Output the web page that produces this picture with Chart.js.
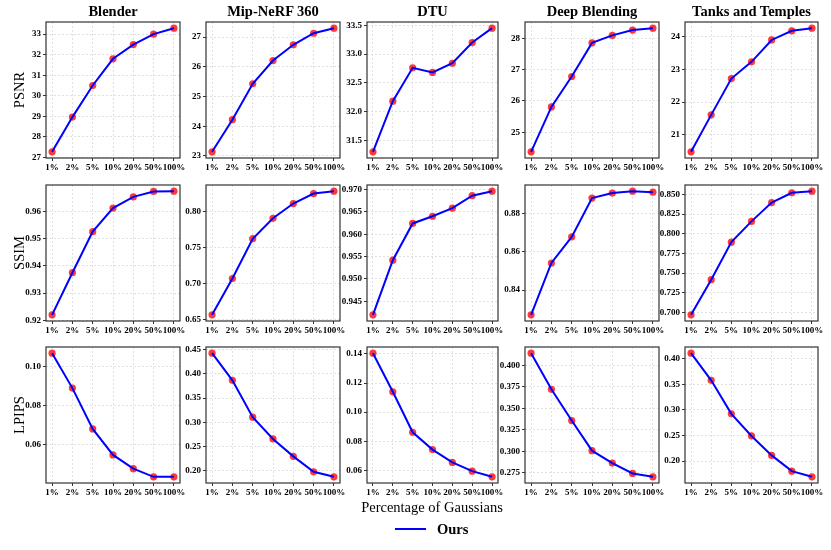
<!DOCTYPE html>
<html><head><meta charset="utf-8">
<script src="https://cdn.jsdelivr.net/npm/chart.js@4.4.0/dist/chart.umd.min.js"></script>
<style>
body{margin:0;background:#fff;width:831px;height:550px;position:relative;overflow:hidden;font-family:"Liberation Serif","DejaVu Serif",serif;color:#000;}
canvas{position:absolute;}
.title{position:absolute;font-weight:bold;font-size:14.5px;line-height:19px;white-space:nowrap;transform:translateX(-50%);}
.ylab{position:absolute;font-size:14.5px;white-space:nowrap;transform:translate(-50%,-50%) rotate(-90deg);}
.xlab{position:absolute;font-size:14.5px;white-space:nowrap;transform:translate(-50%,-50%);}
.leg{position:absolute;font-weight:bold;font-size:14.5px;white-space:nowrap;transform:translateY(-50%);}
.legline{position:absolute;height:2.2px;background:#0000ff;}
</style></head><body>
<script>
const categories = ['1%','2%','5%','10%','20%','50%','100%'];
const datasetNames = ['Blender','Mip-NeRF 360','DTU','Deep Blending','Tanks and Temples'];
const metricNames = ['PSNR','SSIM','LPIPS'];
const xAxisTitle = 'Percentage of Gaussians';
const seriesName = 'Ours';

// PSNR
const psnrBlender = [27.27, 28.96, 30.50, 31.80, 32.49, 33.00, 33.29];
const psnrMip     = [23.14, 24.22, 25.43, 26.21, 26.74, 27.13, 27.30];
const psnrDTU     = [31.30, 32.18, 32.76, 32.68, 32.84, 33.20, 33.45];
const psnrDB      = [24.38, 25.81, 26.78, 27.85, 28.09, 28.26, 28.32];
const psnrTT      = [20.48, 21.61, 22.72, 23.23, 23.90, 24.18, 24.26];
// SSIM
const ssimBlender = [0.9220, 0.9375, 0.9526, 0.9613, 0.9654, 0.9674, 0.9675];
const ssimMip     = [0.6565, 0.7070, 0.7623, 0.7907, 0.8112, 0.8252, 0.8284];
const ssimDTU     = [0.9420, 0.9542, 0.9624, 0.9640, 0.9658, 0.9686, 0.9696];
const ssimDB      = [0.8271, 0.8541, 0.8677, 0.8879, 0.8905, 0.8915, 0.8910];
const ssimTT      = [0.6970, 0.7417, 0.7894, 0.8158, 0.8397, 0.8521, 0.8542];
// LPIPS
const lpipsBlender = [0.1071, 0.0891, 0.0681, 0.0547, 0.0476, 0.0434, 0.0434];
const lpipsMip     = [0.4431, 0.3868, 0.3104, 0.2653, 0.2292, 0.1972, 0.1868];
const lpipsDTU     = [0.1405, 0.1140, 0.0862, 0.0743, 0.0655, 0.0595, 0.0556];
const lpipsDB      = [0.4140, 0.3720, 0.3357, 0.3007, 0.2863, 0.2742, 0.2703];
const lpipsTT      = [0.4105, 0.3575, 0.2922, 0.2490, 0.2111, 0.1804, 0.1693];

// Y tick labels
const psnrBlenderTicks = ['27','28','29','30','31','32','33'];
const psnrMipTicks     = ['23','24','25','26','27'];
const psnrDTUTicks     = ['31.5','32.0','32.5','33.0','33.5'];
const psnrDBTicks      = ['25','26','27','28'];
const psnrTTTicks      = ['21','22','23','24'];
const ssimBlenderTicks = ['0.92','0.93','0.94','0.95','0.96'];
const ssimMipTicks     = ['0.65','0.70','0.75','0.80'];
const ssimDTUTicks     = ['0.945','0.950','0.955','0.960','0.965','0.970'];
const ssimDBTicks      = ['0.84','0.86','0.88'];
const ssimTTTicks      = ['0.700','0.725','0.750','0.775','0.800','0.825','0.850'];
const lpipsBlenderTicks = ['0.06','0.08','0.10'];
const lpipsMipTicks     = ['0.20','0.25','0.30','0.35','0.40','0.45'];
const lpipsDTUTicks     = ['0.06','0.08','0.10','0.12','0.14'];
const lpipsDBTicks      = ['0.275','0.300','0.325','0.350','0.375','0.400'];
const lpipsTTTicks      = ['0.20','0.25','0.30','0.35','0.40'];

const grid = [
  [[psnrBlender, psnrBlenderTicks],[psnrMip, psnrMipTicks],[psnrDTU, psnrDTUTicks],[psnrDB, psnrDBTicks],[psnrTT, psnrTTTicks]],
  [[ssimBlender, ssimBlenderTicks],[ssimMip, ssimMipTicks],[ssimDTU, ssimDTUTicks],[ssimDB, ssimDBTicks],[ssimTT, ssimTTTicks]],
  [[lpipsBlender, lpipsBlenderTicks],[lpipsMip, lpipsMipTicks],[lpipsDTU, lpipsDTUTicks],[lpipsDB, lpipsDBTicks],[lpipsTT, lpipsTTTicks]]
];

// layout (pixels)
const colLeft = [46, 206, 367, 525, 685];
const colWidth = [134, 134, 131, 134, 133];
const rowTop = [22, 185, 347];
const plotH = 136;
const yAxisW = 45, padTop = 8, padRight = 14, xAxisH = 24;

const framePlugin = {
  id: 'frame',
  afterDraw(chart) {
    const a = chart.chartArea, ctx = chart.ctx;
    ctx.save();
    ctx.strokeStyle = '#333';
    ctx.lineWidth = 1.2;
    ctx.strokeRect(a.left, a.top, a.right - a.left, a.bottom - a.top);
    ctx.restore();
  }
};

const tickFont = {family: '"Liberation Serif", "DejaVu Serif", serif', size: 9, weight: 'bold'};

function makePanel(r, c) {
  const [vals, tickLabels] = grid[r][c];
  const cv = document.createElement('canvas');
  const w = colWidth[c] + yAxisW + padRight;
  const h = plotH + padTop + xAxisH;
  cv.width = w; cv.height = h;
  cv.style.left = (colLeft[c] - yAxisW) + 'px';
  cv.style.top = (rowTop[r] - padTop) + 'px';
  cv.style.width = w + 'px'; cv.style.height = h + 'px';
  document.body.appendChild(cv);
  const lo = Math.min(...vals), hi = Math.max(...vals), rg = hi - lo;
  const pts = vals.map((v, i) => ({x: i, y: v}));
  const yTickVals = tickLabels.map(parseFloat);
  new Chart(cv, {
    type: 'line',
    data: {
      datasets: [
        {data: pts, borderColor: '#0000ff', borderWidth: 2, pointRadius: 0, fill: false, tension: 0},
        {data: pts, showLine: false, pointRadius: 3.6, pointBackgroundColor: 'rgba(255,0,0,0.78)', pointBorderWidth: 0}
      ]
    },
    options: {
      responsive: false, animation: false, devicePixelRatio: 1,
      layout: {padding: {left: 0, top: padTop, right: padRight, bottom: 0}},
      plugins: {legend: {display: false}, tooltip: {enabled: false}},
      scales: {
        x: {
          type: 'linear', min: -0.3, max: 6.3,
          afterBuildTicks: s => { s.ticks = categories.map((_, i) => ({value: i})); },
          afterFit: s => { s.height = xAxisH; },
          ticks: {font: tickFont, color: '#000', padding: 1, maxRotation: 0, autoSkip: false,
                  callback: v => categories[v]},
          grid: {color: '#d4d4d4', lineWidth: 0.7, tickColor: '#333', tickLength: 3, tickWidth: 1},
          border: {display: false, dash: [2, 2]}
        },
        y: {
          type: 'linear', min: lo - 0.05 * rg, max: hi + 0.05 * rg,
          afterBuildTicks: s => { s.ticks = yTickVals.map(v => ({value: v})); },
          afterFit: s => { s.width = yAxisW; },
          ticks: {font: tickFont, color: '#000', padding: 2,
                  callback: (v, i) => tickLabels[i]},
          grid: {color: '#d4d4d4', lineWidth: 0.7, tickColor: '#333', tickLength: 3, tickWidth: 1},
          border: {display: false, dash: [2, 2]}
        }
      }
    },
    plugins: [framePlugin]
  });
}

for (let r = 0; r < 3; r++) for (let c = 0; c < 5; c++) makePanel(r, c);

function addDiv(cls, text, x, y) {
  const d = document.createElement('div');
  d.className = cls; d.textContent = text;
  d.style.left = x + 'px'; d.style.top = y + 'px';
  document.body.appendChild(d);
  return d;
}
datasetNames.forEach((n, c) => addDiv('title', n, colLeft[c] + colWidth[c] / 2, 2));
metricNames.forEach((n, r) => addDiv('ylab', n, 19, rowTop[r] + plotH / 2));
addDiv('xlab', xAxisTitle, 432, 507);
const ll = document.createElement('div');
ll.className = 'legline';
ll.style.left = '395px'; ll.style.top = '528px'; ll.style.width = '31px';
document.body.appendChild(ll);
addDiv('leg', seriesName, 437, 529);
</script>
</body></html>
